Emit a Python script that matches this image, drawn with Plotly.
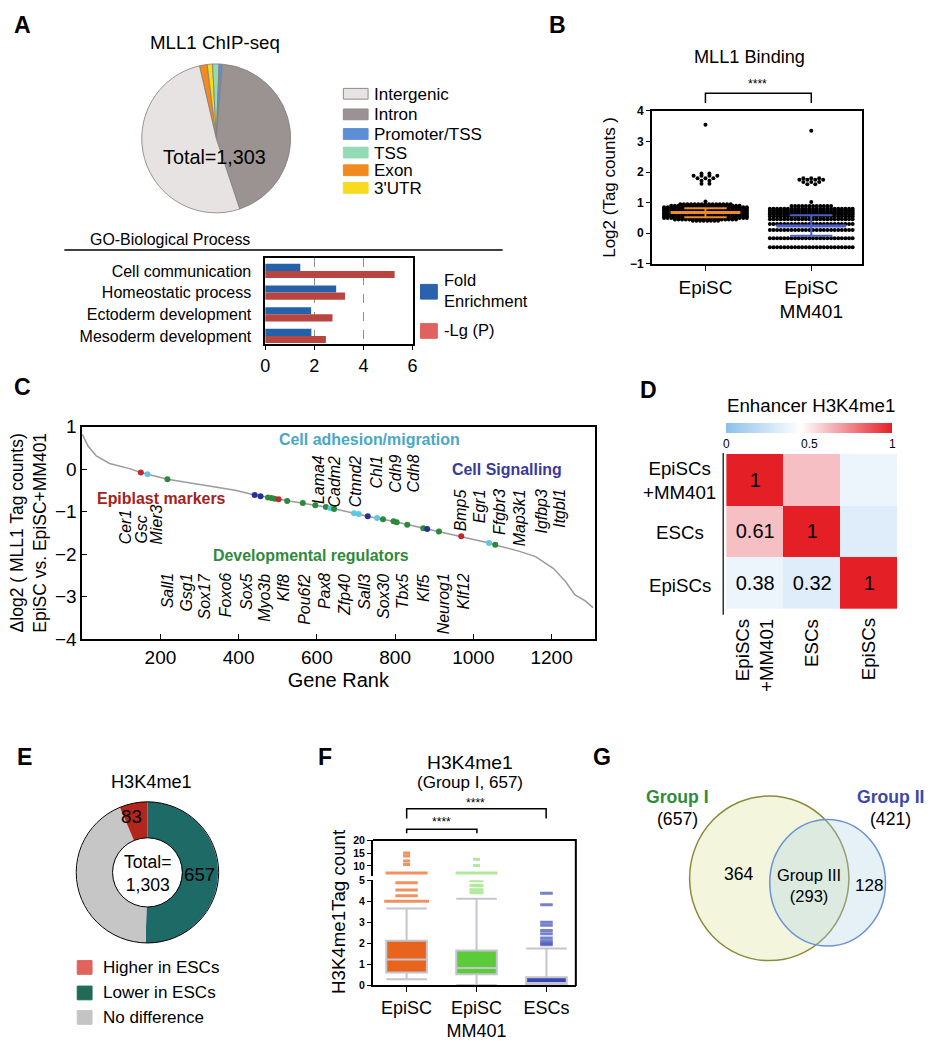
import plotly.graph_objects as go

W, H = 936, 1050
FONT = 'Liberation Sans, Arial, sans-serif'
TS = 1.1  # text scale

# A: genomic annotation of MLL1 peaks (legend order)
a_regions = ['Intergenic', 'Intron', 'Promoter/TSS', 'TSS', 'Exon', "3'UTR"]
a_counts = [671, 568, 9, 18, 22, 15]

# A: GO biological process
go_terms = ['Cell communication', 'Homeostatic process', 'Ectoderm development', 'Mesoderm development']
go_fold = [1.43, 2.89, 1.87, 1.88]
go_lgp = [5.27, 3.25, 2.74, 2.47]

# B: MLL1 binding, rows of the dot plot (log2 value, number of dots in the row)
b_groups = ['EpiSC', 'EpiSC<br>MM401']
b_episc_levels = [3.55, 1.95, 1.88, 1.8, 1.72, 1.62, 1.04, 0.95, 0.9, 0.85, 0.8, 0.75, 0.7, 0.65, 0.6, 0.55, 0.5, 0.45, 0.41]
b_episc_counts = [1, 2, 4, 3, 2, 2, 1, 15, 20, 24, 24, 24, 24, 24, 24, 24, 24, 18, 8]
b_mm401_levels = [3.35, 1.8, 1.75, 1.68, 1.6, 1.02, 0.89, 0.8, 0.74, 0.68, 0.62, 0.55, 0.46, 0.3, 0.11, -0.16, -0.46]
b_mm401_counts = [1, 3, 4, 3, 2, 1, 12, 24, 24, 24, 24, 24, 24, 24, 24, 24, 24]
b_median = [0.68, 0.24]
b_err_low = [0.52, -0.08]
b_err_high = [0.82, 0.59]

# C: ranked change in MLL1 binding
c_rank = [0, 15, 36, 70, 121, 150, 218, 306, 391, 441, 501, 560, 623, 699, 729, 800, 876, 969,
          1040, 1058, 1116, 1159, 1205, 1235, 1260, 1286, 1306]
c_delta = [0.82, 0.54, 0.31, 0.13, 0.01, -0.08, -0.24, -0.38, -0.5, -0.61, -0.71, -0.8, -0.89, -1.05,
           -1.11, -1.24, -1.4, -1.58, -1.74, -1.79, -1.93, -2.06, -2.34, -2.64, -2.96, -3.1, -3.26]
c_dot_rank = [150, 167, 218, 441, 456, 475, 484, 492, 502, 524, 564, 596, 623, 635, 644, 695, 707,
              730, 754, 769, 796, 804, 831, 872, 882, 912, 969, 1040, 1056]
c_dot_delta = [-0.08, -0.12, -0.24, -0.61, -0.64, -0.67, -0.68, -0.70, -0.71, -0.75, -0.80, -0.85,
               -0.89, -0.92, -0.94, -1.04, -1.06, -1.11, -1.15, -1.18, -1.23, -1.25, -1.31, -1.39,
               -1.41, -1.47, -1.58, -1.74, -1.78]
c_dot_group = ['epi', 'adh', 'dev', 'sig', 'sig', 'dev', 'dev', 'dev', 'epi', 'dev', 'dev', 'dev',
               'dev', 'adh', 'dev', 'adh', 'adh', 'sig', 'adh', 'dev', 'dev', 'dev', 'dev', 'dev',
               'sig', 'dev', 'epi', 'adh', 'dev']
c_adh_genes = ['Lama4', 'Cadm2', 'Ctnnd2', 'Chl1', 'Cdh9', 'Cdh8']
c_sig_genes = ['Bmp5', 'Egr1', 'Ffgbr3', 'Map3k1', 'Igfbp3', 'Itgbl1']
c_epi_genes = ['Cer1', 'Gsc', 'Mier3']
c_dev_genes = ['Sall1', 'Gsg1', 'Sox17', 'Foxo6', 'Sox5', 'Myo3b', 'Klf8', 'Pou6f2', 'Pax8', 'Zfp40',
               'Sall3', 'Sox30', 'Tbx5', 'Klf5', 'Neurog1', 'Klf12']

# D: enhancer H3K4me1 correlation
d_samples = ['EpiSCs<br>+MM401', 'ESCs', 'EpiSCs']
d_corr = [[1, 0.61, 0.38], [0.61, 1, 0.32], [0.38, 0.32, 1]]

# E: H3K4me1 change at MLL1 sites
e_labels = ['Lower in ESCs', 'No difference', 'Higher in ESCs']
e_counts = [657, 563, 83]

# F: H3K4me1 tag counts, Group I
f_groups = ['EpiSC', 'EpiSC<br>MM401', 'ESCs']
f_q1 = [0.6, 0.52, 0.0]
f_median = [1.22, 0.82, 0.1]
f_q3 = [2.12, 1.65, 0.38]
f_low = [0.28, 0.0, 0.0]
f_high = [3.65, 4.12, 1.74]
f_outliers = [
    [4.0, 4.26, 4.54, 4.88, 7.3, 10.6, 11.9, 13.8, 15.0],
    [4.4, 4.55, 4.75, 4.97, 7.3, 10.2, 12.6],
    [1.92, 2.0, 2.1, 2.25, 2.45, 2.6, 2.85, 3.0, 3.83, 4.38],
]

# G: overlap of groups
g_only1, g_both, g_only2 = 364, 293, 128


def px(x):
    return x / W


def py(y):
    return 1 - y / H


def dom_x(a, b):
    return [a / W, b / W]


def dom_y(top, bottom):
    return [1 - bottom / H, 1 - top / H]


fig = go.Figure()


def note(x, y, text, size=14, color='black', xa='center', ya='middle', angle=0,
         bold=False, italic=False, align='center'):
    if bold:
        text = f'<b>{text}</b>'
    if italic:
        text = f'<i>{text}</i>'
    fig.add_annotation(x=px(x), y=py(y), xref='paper', yref='paper', text=text, showarrow=False,
                       font=dict(family=FONT, size=size * TS, color=color), xanchor=xa, yanchor=ya,
                       textangle=angle, align=align)


def seg(pts, color='black', width=1.5):
    path = 'M ' + ' L '.join(f'{px(x)} {py(y)}' for x, y in pts)
    fig.add_shape(type='path', path=path, xref='paper', yref='paper',
                  line=dict(color=color, width=width))


def rect(x0, y0, x1, y1, fill, edge=None):
    fig.add_shape(type='rect', xref='paper', yref='paper', x0=px(x0), x1=px(x1), y0=py(y1), y1=py(y0),
                  fillcolor=fill, line=dict(color=edge or fill, width=1))


def swarm(center, levels, counts, step):
    xs, ys = [], []
    for lv, n in zip(levels, counts):
        s = step if n > 5 else step * 2.2
        for i in range(n):
            xs.append(center + (i - (n - 1) / 2) * s)
            ys.append(lv)
    return xs, ys


# ---------- A: pie
a_colors = {'Intergenic': '#e7e3e2', 'Intron': '#9b9292', 'Promoter/TSS': '#5d8fd6',
            'TSS': '#93dab5', 'Exon': '#f28b1f', "3'UTR": '#f8da1e'}
pie_order = [4, 5, 3, 2, 1, 0]
fig.add_trace(go.Pie(
    labels=[a_regions[i] for i in pie_order],
    values=[a_counts[i] for i in pie_order],
    marker=dict(colors=[a_colors[a_regions[i]] for i in pie_order], line=dict(color='#857b7b', width=0.8)),
    sort=False, direction='clockwise', rotation=-13, textinfo='none',
    domain=dict(x=dom_x(137, 290), y=dom_y(55, 207))
))

# ---------- A: GO bars
fig.add_trace(go.Bar(x=go_fold, y=list(range(len(go_terms))), orientation='h',
                     marker=dict(color='#2461a8', line=dict(width=0)), xaxis='x', yaxis='y'))
fig.add_trace(go.Bar(x=go_lgp, y=list(range(len(go_terms))), orientation='h',
                     marker=dict(color='#b8453f', line=dict(width=0)), xaxis='x', yaxis='y'))

# ---------- B: dot plot
b_colors = ['#f0892a', '#4c5fcc']
for gi, (levels, counts) in enumerate([(b_episc_levels, b_episc_counts), (b_mm401_levels, b_mm401_counts)]):
    xs, ys = swarm(gi, levels, counts, 0.034)
    fig.add_trace(go.Scatter(x=xs, y=ys, mode='markers', marker=dict(size=4, color='black'),
                             xaxis='x2', yaxis='y2'))
for gi in range(len(b_groups)):
    m, lo, hi = b_median[gi], b_err_low[gi], b_err_high[gi]
    fig.add_trace(go.Scatter(x=[gi - 0.33, gi + 0.33], y=[m, m], mode='lines',
                             line=dict(color=b_colors[gi], width=3), xaxis='x2', yaxis='y2'))
    fig.add_trace(go.Scatter(x=[gi, gi, None, gi - 0.2, gi + 0.2, None, gi - 0.2, gi + 0.2],
                             y=[lo, hi, None, lo, lo, None, hi, hi], mode='lines',
                             line=dict(color=b_colors[gi], width=2), xaxis='x2', yaxis='y2'))

# ---------- C: ranked curve
c_colors = {'epi': '#c0282d', 'adh': '#5cc8e2', 'dev': '#2a8a3a', 'sig': '#2b2f9a'}
fig.add_trace(go.Scatter(x=c_rank, y=c_delta, mode='lines', line=dict(color='#9b9b9b', width=1.5),
                         xaxis='x3', yaxis='y3'))
fig.add_trace(go.Scatter(x=c_dot_rank, y=c_dot_delta, mode='markers',
                         marker=dict(size=6, color=[c_colors[g] for g in c_dot_group]),
                         xaxis='x3', yaxis='y3'))

# ---------- D: heatmap
d_text = [[(f'{v:g}' if j <= i else '') for j, v in enumerate(row)] for i, row in enumerate(d_corr)]
fig.add_trace(go.Heatmap(
    z=d_corr, x=[0, 1, 2], y=[0, 1, 2], text=d_text, texttemplate='%{text}',
    textfont=dict(size=20, family=FONT, color='black'),
    colorscale=[[0, '#8dc0ea'], [0.45, '#ffffff'], [0.6, '#f6c3c7'], [1, '#e41f26']],
    zmin=0, zmax=1, xaxis='x4', yaxis='y4',
    colorbar=dict(orientation='h', x=px(813), xanchor='center', y=py(421), yanchor='top',
                  len=168 / W, thickness=10, tickvals=[0, 0.5, 1], ticktext=['0', '0.5', '1'],
                  tickfont=dict(size=12, family=FONT), outlinewidth=0, ticks='', xpad=0, ypad=0)
))

# ---------- E: donut
fig.add_trace(go.Pie(
    labels=e_labels, values=e_counts, hole=0.49, sort=False, direction='clockwise', rotation=0,
    marker=dict(colors=['#1e6a66', '#c6c6c6', '#b3261e'], line=dict(width=0)), textinfo='none',
    domain=dict(x=dom_x(72, 216), y=dom_y(808, 952))
))

# ---------- F: box plots on a broken axis
f_fill = ['#e8631c', '#5ccb3a', '#3847b0']
f_out_col = ['#e8631c', '#8ee070', '#3b4bb8']
f_dash = [16, 10, 9]
for gi in range(len(f_groups)):
    fig.add_trace(go.Box(x=[gi], q1=[f_q1[gi]], median=[f_median[gi]], q3=[f_q3[gi]],
                         lowerfence=[f_low[gi]], upperfence=[f_high[gi]], fillcolor=f_fill[gi],
                         line=dict(color='#c4c4ce', width=2), width=0.58, whiskerwidth=1,
                         boxpoints=False, xaxis='x5', yaxis='y5'))
    lo = [v for v in f_outliers[gi] if v < 5]
    hi = [v for v in f_outliers[gi] if v >= 5]
    lo_w = [f_dash[gi]] * len(lo)
    if gi == 0:
        lo_w[0] = 32
    hi_w = [30 if v < 8 else 5 for v in hi]
    for vals, widths, ax in [(lo, lo_w, 'y5'), (hi, hi_w, 'y6')]:
        if vals:
            fig.add_trace(go.Scatter(x=[gi] * len(vals), y=vals, mode='markers',
                                     marker=dict(symbol='line-ew-open', size=widths, color=f_out_col[gi],
                                                 line=dict(width=3, color=f_out_col[gi])),
                                     xaxis='x5', yaxis=ax))

# ---------- layout
ax_line = dict(showline=True, linecolor='black', zeroline=False, showgrid=False, tickcolor='black')
bold_tick = dict(size=12, family=FONT, weight='bold')
small_bold = dict(size=10.5, family=FONT, weight='bold')
fig.update_layout(
    width=W, height=H, margin=dict(l=0, r=0, t=0, b=0),
    paper_bgcolor='white', plot_bgcolor='white', showlegend=False,
    font=dict(family=FONT, color='black'),
    barmode='group', bargap=0.34, bargroupgap=0,
    xaxis=dict(domain=dom_x(263, 412), anchor='y', range=[0, 6], tickvals=[0, 2, 4, 6],
               showline=True, linecolor='black', linewidth=1.5, mirror=True, ticks='outside', ticklen=4,
               tickcolor='black', showgrid=True, gridcolor='#8f8f8f', griddash='dash', gridwidth=1,
               zeroline=False, tickfont=dict(size=18)),
    yaxis=dict(domain=dom_y(253, 341), anchor='x', range=[3.38, -0.6], tickvals=list(range(len(go_terms))),
               ticktext=go_terms, showline=True, linecolor='black', linewidth=1.5, mirror=True, ticks='',
               showgrid=False, zeroline=False, tickfont=dict(size=16), ticklabelstandoff=9),
    xaxis2=dict(domain=dom_x(654, 866), anchor='y2', range=[-0.505, 1.477], tickvals=[0, 1],
                ticktext=b_groups, ticks='outside', ticklen=5, linewidth=2, mirror=True,
                tickfont=dict(size=19), **ax_line),
    yaxis2=dict(domain=dom_y(103, 259), anchor='x2', range=[-1, 4], dtick=1, ticks='outside', ticklen=4,
                linewidth=2, mirror=True, tickfont=bold_tick,
                title=dict(text='Log2 (Tag counts )', font=dict(size=17), standoff=10), **ax_line),
    xaxis3=dict(domain=dom_x(78, 596), anchor='y3', range=[0, 1310], tickvals=[200, 400, 600, 800, 1000, 1200],
                ticks='inside', ticklen=5, linewidth=1.5, mirror=True, tickfont=dict(size=19),
                title=dict(text='Gene Rank', font=dict(size=20), standoff=6), **ax_line),
    yaxis3=dict(domain=dom_y(425, 642), anchor='x3', range=[-4, 1], dtick=1, ticks='inside', ticklen=5,
                linewidth=1.5, mirror=True, tickfont=dict(size=19),
                title=dict(text='Δlog2 ( MLL1 Tag counts)<br>EpiSC vs. EpiSC+MM401', font=dict(size=17.5),
                           standoff=4), **ax_line),
    xaxis4=dict(domain=dom_x(729, 902), anchor='y4', range=[-0.5, 2.5], visible=False),
    yaxis4=dict(domain=dom_y(453, 611), anchor='x4', range=[2.5, -0.5], visible=False),
    xaxis5=dict(domain=dom_x(372, 577), anchor='y5', range=[-0.48, 2.42], tickvals=[0, 1, 2],
                ticktext=f_groups, ticks='outside', ticklen=5, linewidth=2, tickfont=dict(size=18), **ax_line),
    yaxis5=dict(domain=dom_y(888, 995), anchor='x5', range=[0, 5], dtick=1, ticks='outside', ticklen=4,
                linewidth=2, tickfont=small_bold, **ax_line),
    yaxis6=dict(domain=dom_y(847, 884), anchor='x5', range=[6, 20], tickvals=[10, 15, 20], ticks='outside',
                ticklen=4, linewidth=2, tickfont=small_bold, **ax_line),
)

# ---------- panel letters
for letter, x, y in [('A', 18, 15), ('B', 558, 15), ('C', 18, 385), ('D', 650, 388),
                     ('E', 20, 762), ('F', 323, 762), ('G', 603, 762)]:
    note(x, y, letter, size=21, bold=True)

# ---------- A texts
note(212, 33, 'MLL1 ChIP-seq', 17)
note(212, 150, f'Total={sum(a_counts):,}', 18)
for name, y in zip(a_regions, [86, 107, 127, 146, 164, 182]):
    edge = '#8c8c8c' if name in ('Intergenic', 'Intron') else a_colors[name]
    rect(342, y - 6, 367, y + 5, a_colors[name], edge)
    note(371, y, name, 15.5, xa='left')
note(167, 234, 'GO-Biological Process', 14.5)
seg([(60, 245), (503, 245)], width=1.5)
rect(420, 280, 437, 295, '#2a62ad')
note(442, 286, 'Fold<br>Enrichment', 15, xa='left', align='left')
rect(420, 320, 437, 335, '#e0625f')
note(442, 327, '-Lg (P)', 15, xa='left')

# ---------- B texts
note(753, 48, 'MLL1 Binding', 16.5)
note(761, 76, '****', 11)
seg([(708, 95), (708, 85), (815, 85), (815, 95)], width=1.5)

# ---------- C texts
note(368, 438, 'Cell adhesion/migration', 14.5, color='#4aa7c6', bold=True)
note(507, 469, 'Cell Signalling', 14.5, color='#3a3a99', bold=True)
note(158, 498, 'Epiblast markers', 14.5, color='#a32320', bold=True)
note(309, 557, 'Developmental regulators', 14.5, color='#2f8a3b', bold=True)
for g, x in zip(c_adh_genes, [317, 334, 355, 375, 395, 413]):
    note(x, 452, g, 14.5, ya='top', angle=-90, italic=True)
for g, x in zip(c_sig_genes, [460, 479, 500, 520, 542, 561]):
    note(x, 487, g, 14.5, ya='top', angle=-90, italic=True)
for g, x in zip(c_epi_genes, [122, 138, 153]):
    note(x, 547, g, 14.5, ya='bottom', angle=-90, italic=True)
for g, x in zip(c_dev_genes, [164, 183, 202, 223, 244, 262, 282, 302, 323, 343, 363, 382, 402, 423, 443, 463]):
    note(x, 573, g, 14.5, ya='top', angle=-90, italic=True)

# ---------- D texts
note(815, 404, 'Enhancer H3K4me1', 17)
for name, y in zip(d_samples, [480, 533, 587]):
    note(682, y, name, 17)
for name, x in zip(d_samples, [757, 815, 873]):
    note(x, 619, name, 17, ya='top', angle=-90, align='right')
seg([(726, 452), (726, 617)], color='#333333', width=1.5)

# ---------- E texts
note(148, 788, 'H3K4me1', 16.5)
fig.add_shape(type='circle', xref='paper', yref='paper', x0=px(72), x1=px(216), y0=py(952), y1=py(808),
              line=dict(color='black', width=1))
fig.add_shape(type='circle', xref='paper', yref='paper', x0=px(108.7), x1=px(179.3), y0=py(915.3),
              y1=py(844.7), line=dict(color='black', width=1))
note(144, 881, f'Total=<br>{sum(e_counts):,}', 16)
note(128, 823, str(e_counts[2]), 17)
note(197, 882, str(e_counts[0]), 17)
for name, col, y in [('Higher in ESCs', '#e0645c', 977), ('Lower in ESCs', '#1f6b55', 1003),
                     ('No difference', '#c4c4c4', 1028)]:
    rect(73, y - 7, 88, y + 7, col)
    note(97, y, name, 15.5, xa='left')

# ---------- F texts
note(470, 768, 'H3K4me1', 17.5)
note(470, 788, '(Group I, 657)', 15.5)
note(476, 809, '****', 11)
seg([(406, 825), (406, 815), (547, 815), (547, 825)], width=1.5)
note(441, 829, '****', 11)
seg([(406, 840), (406, 836), (477, 836), (477, 840)], width=1.5)
note(337, 920, 'H3K4me1Tag count', 17, angle=-90)
seg([(372, 847), (577, 847), (577, 996)], width=2)

# ---------- G venn
fig.add_shape(type='circle', xref='paper', yref='paper', x0=px(692), x1=px(853), y0=py(970), y1=py(802),
              fillcolor='rgba(226,232,170,0.4)', line=dict(color='#8c8a3c', width=1.5))
fig.add_shape(type='circle', xref='paper', yref='paper', x0=px(773), x1=px(890), y0=py(955), y1=py(826),
              fillcolor='rgba(170,205,230,0.3)', line=dict(color='#6d93d2', width=1.5))
note(680, 803, 'Group I', 16, color='#2e8b3a', bold=True)
note(680, 825, f'({g_only1 + g_both})', 16)
note(931, 803, 'Group II', 16, color='#3a4aa8', bold=True, xa='right')
note(895, 825, f'({g_only2 + g_both})', 16)
note(742, 882, str(g_only1), 16)
note(813, 893, f'Group III<br>({g_both})', 15)
note(873, 893, str(g_only2), 15.5)

# page body has a default margin; drop it so the figure sits at the window's top-left
fig.write_html('out.html', config={'displayModeBar': False},
               post_script="document.body.style.margin='0';")
